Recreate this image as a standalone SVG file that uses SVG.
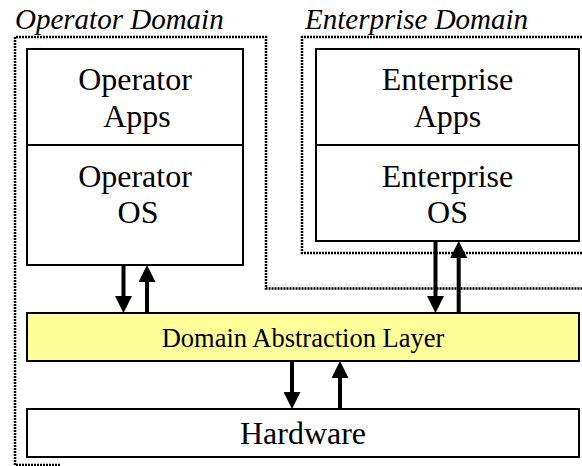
<svg xmlns="http://www.w3.org/2000/svg" width="582" height="466" viewBox="0 0 582 466">
  <style>
    .box { fill: #ffffff; stroke: #000000; stroke-width: 2; }
    .dal { fill: #ffff99; stroke: #000000; stroke-width: 2; }
    .div { stroke: #000000; stroke-width: 2; }
    .domain { fill: none; stroke: #000000; stroke-width: 2.5; stroke-dasharray: 2 1; }
    text { font-family: 'Liberation Serif', 'Times New Roman', Times, serif; fill: #000000; }
    .lbl { font-size: 32px; text-anchor: middle; }
    .small { font-size: 26.5px; }
    .dname { font-size: 29px; font-style: italic; }
    .arrow { stroke: #000000; stroke-width: 4; fill: none; marker-end: url(#head); }
  </style>
  <defs>
    <marker id="head" markerUnits="userSpaceOnUse" markerWidth="17" markerHeight="17" refX="1" refY="8.5" orient="auto">
      <path d="M0,0 L17,8.5 L0,17 Z" fill="#000000"/>
    </marker>
  </defs>

  <rect width="582" height="466" fill="#ffffff"/>

  <!-- domain boundaries -->
  <g id="operator-domain">
    <path class="domain" d="M60,465 H15 V37 H266 V288.5 H582"/>
    <text class="dname" x="15" y="29">Operator Domain</text>
  </g>
  <g id="enterprise-domain">
    <path class="domain" d="M582,37 H302 V253 H582"/>
    <text class="dname" x="305" y="29">Enterprise Domain</text>
  </g>

  <!-- operator stack -->
  <g id="operator-stack">
    <rect class="box" x="27" y="49" width="216" height="216"/>
    <line class="div" x1="27" y1="145" x2="243" y2="145"/>
    <text class="lbl" x="135" y="90">Operator</text>
    <text class="lbl" x="137" y="127">Apps</text>
    <text class="lbl" x="135" y="187">Operator</text>
    <text class="lbl" x="138" y="223">OS</text>
  </g>

  <!-- enterprise stack -->
  <g id="enterprise-stack">
    <rect class="box" x="316" y="49" width="263" height="192"/>
    <line class="div" x1="316" y1="145" x2="579" y2="145"/>
    <text class="lbl" x="447.5" y="90">Enterprise</text>
    <text class="lbl" x="447.5" y="127">Apps</text>
    <text class="lbl" x="447.5" y="187">Enterprise</text>
    <text class="lbl" x="447.5" y="223">OS</text>
  </g>

  <!-- abstraction layer -->
  <g id="domain-abstraction-layer">
    <rect class="dal" x="27" y="313" width="552" height="48"/>
    <text class="lbl small" x="303" y="347">Domain Abstraction Layer</text>
  </g>

  <!-- hardware -->
  <g id="hardware">
    <rect class="box" x="27" y="409" width="552" height="48"/>
    <text class="lbl" x="303" y="444">Hardware</text>
  </g>

  <!-- connectors -->
  <g id="connectors">
    <line class="arrow" x1="123.5" y1="266" x2="123.5" y2="297"/>
    <line class="arrow" x1="147" y1="312" x2="147" y2="281"/>
    <line class="arrow" x1="435.5" y1="242" x2="435.5" y2="297"/>
    <line class="arrow" x1="458.7" y1="312" x2="458.7" y2="257"/>
    <line class="arrow" x1="292" y1="362" x2="292" y2="393"/>
    <line class="arrow" x1="340" y1="408" x2="340" y2="377"/>
  </g>
</svg>
